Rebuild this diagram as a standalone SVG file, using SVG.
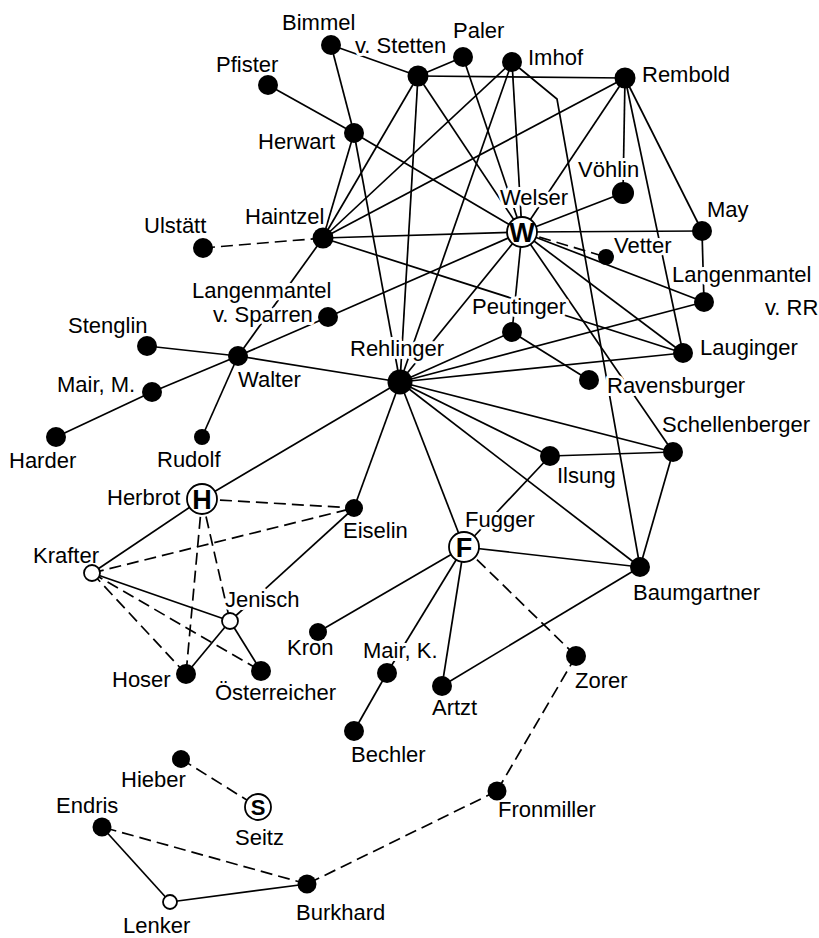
<svg xmlns="http://www.w3.org/2000/svg" width="819" height="938" viewBox="0 0 819 938">
<style>
.e{stroke:#000;stroke-width:1.7;fill:none}
.d{stroke-dasharray:12 6}
.n{fill:#000}
.o{fill:#fff;stroke:#000;stroke-width:1.8}
.t{font-family:"Liberation Sans",Arial,sans-serif;font-size:22px;fill:#000;stroke:#fff;stroke-width:6;stroke-linejoin:round;paint-order:stroke}
.L{font-family:"Liberation Sans",Arial,sans-serif;font-weight:bold;font-size:27px;text-anchor:middle;fill:#000}
</style>
<rect width="819" height="938" fill="#fff"/>
<g id="connectors" class="e">
<line x1="331" y1="45" x2="418" y2="76"/>
<line x1="331" y1="45" x2="354" y2="133"/>
<line x1="268" y1="85" x2="354" y2="133"/>
<line x1="354" y1="133" x2="323" y2="238"/>
<line x1="354" y1="133" x2="400" y2="382"/>
<line x1="354" y1="133" x2="522" y2="232"/>
<line x1="418" y1="76" x2="463" y2="57"/>
<line x1="418" y1="76" x2="625" y2="78"/>
<line x1="418" y1="76" x2="323" y2="238"/>
<line x1="418" y1="76" x2="400" y2="382"/>
<line x1="418" y1="76" x2="522" y2="232"/>
<line x1="463" y1="57" x2="522" y2="232"/>
<line x1="512" y1="62" x2="323" y2="238"/>
<line x1="512" y1="62" x2="400" y2="382"/>
<line x1="512" y1="62" x2="522" y2="232"/>
<polyline points="512,62 557,99 640,567"/>
<line x1="625" y1="78" x2="323" y2="238"/>
<line x1="625" y1="78" x2="522" y2="232"/>
<line x1="625" y1="78" x2="623" y2="193"/>
<line x1="625" y1="78" x2="683" y2="353"/>
<line x1="625" y1="78" x2="702" y2="231"/>
<line x1="702" y1="231" x2="704" y2="302"/>
<line x1="522" y1="232" x2="702" y2="231"/>
<line x1="522" y1="232" x2="623" y2="193"/>
<line x1="522" y1="232" x2="704" y2="302"/>
<line x1="522" y1="232" x2="683" y2="353"/>
<line x1="522" y1="232" x2="673" y2="452"/>
<line x1="522" y1="232" x2="512" y2="332"/>
<line x1="522" y1="232" x2="400" y2="382"/>
<line x1="522" y1="232" x2="328" y2="317"/>
<line x1="328" y1="317" x2="238" y2="356"/>
<line x1="522" y1="232" x2="323" y2="238"/>
<line x1="323" y1="238" x2="683" y2="353"/>
<line x1="323" y1="238" x2="238" y2="356"/>
<line x1="512" y1="332" x2="400" y2="382"/>
<line x1="512" y1="332" x2="589" y2="380"/>
<line x1="400" y1="382" x2="704" y2="302"/>
<line x1="400" y1="382" x2="683" y2="353"/>
<line x1="400" y1="382" x2="673" y2="452"/>
<line x1="400" y1="382" x2="550" y2="456"/>
<line x1="400" y1="382" x2="640" y2="567"/>
<line x1="400" y1="382" x2="464" y2="547"/>
<line x1="400" y1="382" x2="354" y2="508"/>
<line x1="400" y1="382" x2="202" y2="499"/>
<line x1="400" y1="382" x2="238" y2="356"/>
<line x1="147" y1="346" x2="238" y2="356"/>
<line x1="238" y1="356" x2="152" y2="392"/>
<line x1="152" y1="392" x2="56" y2="437"/>
<line x1="238" y1="356" x2="202" y2="437"/>
<line x1="550" y1="456" x2="673" y2="452"/>
<line x1="550" y1="456" x2="464" y2="547"/>
<line x1="673" y1="452" x2="640" y2="567"/>
<line x1="464" y1="547" x2="640" y2="567"/>
<line x1="464" y1="547" x2="318" y2="632"/>
<line x1="464" y1="547" x2="387" y2="673"/>
<line x1="464" y1="547" x2="442" y2="686"/>
<line x1="442" y1="686" x2="640" y2="567"/>
<line x1="387" y1="673" x2="354" y2="731"/>
<line x1="92" y1="573" x2="202" y2="499"/>
<line x1="92" y1="573" x2="230" y2="621"/>
<line x1="230" y1="621" x2="186" y2="674"/>
<line x1="230" y1="621" x2="261" y2="671"/>
<line x1="230" y1="621" x2="354" y2="508"/>
<line x1="102" y1="827" x2="170" y2="902"/>
<line x1="170" y1="902" x2="307" y2="884"/>
<g class="d">
<line x1="203" y1="248" x2="323" y2="238"/>
<line x1="522" y1="232" x2="606" y2="257"/>
<line x1="202" y1="499" x2="354" y2="508"/>
<line x1="92" y1="573" x2="354" y2="508"/>
<line x1="202" y1="499" x2="186" y2="674"/>
<line x1="202" y1="499" x2="230" y2="621"/>
<line x1="92" y1="573" x2="186" y2="674"/>
<line x1="92" y1="573" x2="261" y2="671"/>
<line x1="464" y1="547" x2="576" y2="656"/>
<line x1="576" y1="656" x2="497" y2="791"/>
<line x1="497" y1="791" x2="307" y2="884"/>
<line x1="307" y1="884" x2="102" y2="827"/>
<line x1="181" y1="759" x2="258" y2="807"/>
</g>
</g>
<g id="bimmel"><text class="t" x="282" y="30">Bimmel</text><circle class="n" cx="331" cy="45" r="10"/></g>
<g id="vstetten"><text class="t" x="355" y="53">v. Stetten</text><circle class="n" cx="418" cy="76" r="10.5"/></g>
<g id="paler"><text class="t" x="453" y="38">Paler</text><circle class="n" cx="463" cy="57" r="10"/></g>
<g id="imhof"><text class="t" x="528" y="65">Imhof</text><circle class="n" cx="512" cy="62" r="10"/></g>
<g id="rembold"><text class="t" x="642" y="82">Rembold</text><circle class="n" cx="625" cy="78" r="10.5"/></g>
<g id="pfister"><text class="t" x="216" y="72">Pfister</text><circle class="n" cx="268" cy="85" r="10"/></g>
<g id="herwart"><text class="t" x="258" y="149">Herwart</text><circle class="n" cx="354" cy="133" r="10"/></g>
<g id="haintzel"><text class="t" x="245" y="224">Haintzel</text><circle class="n" cx="323" cy="238" r="10.5"/></g>
<g id="ulstaett"><text class="t" x="144" y="233">Ulstätt</text><circle class="n" cx="203" cy="248" r="10"/></g>
<g id="welser"><text class="t" x="500" y="205">Welser</text><circle class="o" cx="522" cy="232" r="15"/><text class="L" x="522" y="242">W</text></g>
<g id="voehlin"><text class="t" x="578" y="177">Vöhlin</text><circle class="n" cx="623" cy="193" r="11"/></g>
<g id="may"><text class="t" x="707" y="217">May</text><circle class="n" cx="702" cy="231" r="10"/></g>
<g id="vetter"><text class="t" x="614" y="253">Vetter</text><circle class="n" cx="606" cy="257" r="8"/></g>
<g id="langenmantel-rr"><text class="t" x="672" y="282">Langenmantel</text><text class="t" x="765" y="315">v. RR</text><circle class="n" cx="704" cy="302" r="10"/></g>
<g id="peutinger"><text class="t" x="472" y="314">Peutinger</text><circle class="n" cx="512" cy="332" r="10"/></g>
<g id="lauginger"><text class="t" x="700" y="355">Lauginger</text><circle class="n" cx="683" cy="353" r="10"/></g>
<g id="ravensburger"><text class="t" x="607" y="393">Ravensburger</text><circle class="n" cx="589" cy="380" r="10"/></g>
<g id="rehlinger"><text class="t" x="350" y="356">Rehlinger</text><circle class="n" cx="400" cy="382" r="12.5"/></g>
<g id="schellenberger"><text class="t" x="662" y="432">Schellenberger</text><circle class="n" cx="673" cy="452" r="10"/></g>
<g id="ilsung"><text class="t" x="557" y="483">Ilsung</text><circle class="n" cx="550" cy="456" r="10"/></g>
<g id="fugger"><text class="t" x="465" y="527">Fugger</text><circle class="o" cx="464" cy="547" r="15"/><text class="L" x="464" y="557">F</text></g>
<g id="baumgartner"><text class="t" x="633" y="600">Baumgartner</text><circle class="n" cx="640" cy="567" r="10"/></g>
<g id="eiselin"><text class="t" x="343" y="538">Eiselin</text><circle class="n" cx="354" cy="508" r="9"/></g>
<g id="herbrot"><text class="t" x="107" y="505">Herbrot</text><circle class="o" cx="202" cy="499" r="15"/><text class="L" x="202" y="509">H</text></g>
<g id="krafter"><text class="t" x="33" y="563">Krafter</text><circle class="o" cx="92" cy="573" r="8"/></g>
<g id="jenisch"><text class="t" x="225" y="607">Jenisch</text><circle class="o" cx="230" cy="621" r="8"/></g>
<g id="hoser"><text class="t" x="112" y="687">Hoser</text><circle class="n" cx="186" cy="674" r="10"/></g>
<g id="oesterreicher"><text class="t" x="215" y="700">Österreicher</text><circle class="n" cx="261" cy="671" r="10"/></g>
<g id="kron"><text class="t" x="287" y="655">Kron</text><circle class="n" cx="318" cy="632" r="9"/></g>
<g id="mair-k"><text class="t" x="363" y="658">Mair, K.</text><circle class="n" cx="387" cy="673" r="10"/></g>
<g id="bechler"><text class="t" x="351" y="762">Bechler</text><circle class="n" cx="354" cy="731" r="10"/></g>
<g id="artzt"><text class="t" x="432" y="715">Artzt</text><circle class="n" cx="442" cy="686" r="10"/></g>
<g id="zorer"><text class="t" x="575" y="688">Zorer</text><circle class="n" cx="576" cy="656" r="10"/></g>
<g id="stenglin"><text class="t" x="68" y="333">Stenglin</text><circle class="n" cx="147" cy="346" r="10"/></g>
<g id="langenmantel-sparren"><text class="t" x="192" y="298">Langenmantel</text><text class="t" x="213" y="322">v. Sparren</text><circle class="n" cx="328" cy="317" r="10"/></g>
<g id="walter"><text class="t" x="238" y="387">Walter</text><circle class="n" cx="238" cy="356" r="10"/></g>
<g id="mair-m"><text class="t" x="57" y="392">Mair, M.</text><circle class="n" cx="152" cy="392" r="10"/></g>
<g id="harder"><text class="t" x="9" y="468">Harder</text><circle class="n" cx="56" cy="437" r="10"/></g>
<g id="rudolf"><text class="t" x="157" y="467">Rudolf</text><circle class="n" cx="202" cy="437" r="8"/></g>
<g id="hieber"><text class="t" x="121" y="787">Hieber</text><circle class="n" cx="181" cy="759" r="9"/></g>
<g id="seitz"><text class="t" x="235" y="845">Seitz</text><circle class="o" cx="258" cy="807" r="13"/><text class="L" x="258" y="815" style="font-size:22px">S</text></g>
<g id="endris"><text class="t" x="56" y="813">Endris</text><circle class="n" cx="102" cy="827" r="9.5"/></g>
<g id="lenker"><text class="t" x="123" y="933">Lenker</text><circle class="o" cx="170" cy="902" r="7"/></g>
<g id="burkhard"><text class="t" x="296" y="920">Burkhard</text><circle class="n" cx="307" cy="884" r="9.5"/></g>
<g id="fronmiller"><text class="t" x="498" y="817">Fronmiller</text><circle class="n" cx="497" cy="791" r="9.5"/></g>
</svg>
